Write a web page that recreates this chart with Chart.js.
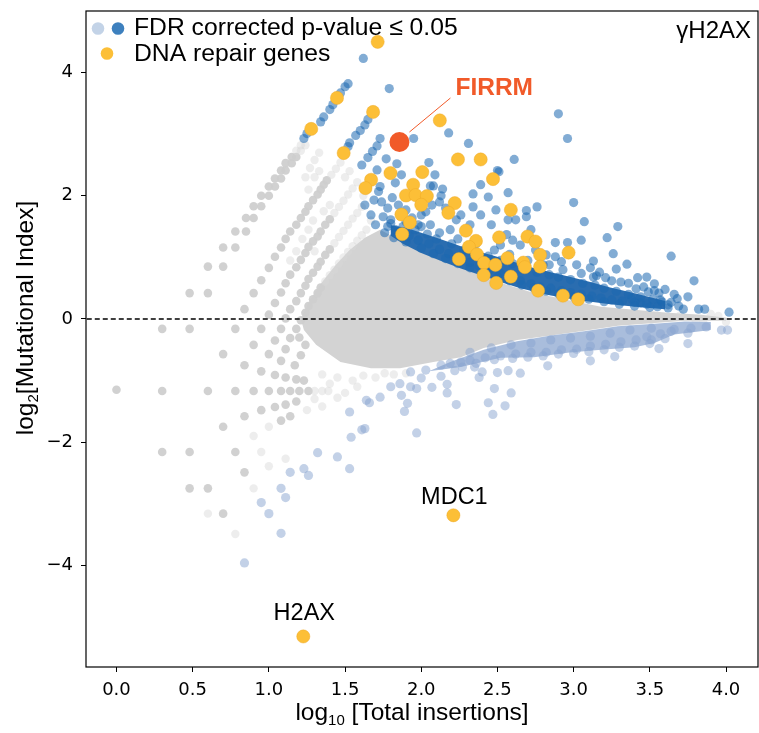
<!DOCTYPE html>
<html>
<head>
<meta charset="utf-8">
<script src="https://cdn.jsdelivr.net/npm/chart.js@4.4.0/dist/chart.umd.min.js"></script>
<style>
html, body { margin: 0; padding: 0; background: #fff; }
canvas { display: block; }
</style>
</head>
<body>
<canvas id="chart" width="759" height="733" style="width:759px;height:733px"></canvas>
<script>
// axis ticks
const xTicks = [0, 0.5, 1, 1.5, 2, 2.5, 3, 3.5, 4];
const yTicks = [-4, -2, 0, 2, 4];

// [log10 total insertions, log2 mutational index]
const grayPoints = [
  [0.48,0.42],[0.60,0.42],[0.60,0.85],[0.70,0.85],[0.70,1.16],[0.78,1.16],[0.78,1.42],[0.85,1.42],[0.85,1.64],[0.90,1.64],
  [0.90,1.83],[0.95,1.83],[0.95,2.00],[1.00,2.00],[1.00,2.15],[1.04,2.15],[1.04,2.28],[1.08,2.28],[1.08,2.41],[1.11,2.41],
  [1.11,2.53],[1.15,2.53],[1.15,2.63],[1.18,2.63],
  [0.30,-0.16],[0.48,-0.16],[0.78,-0.16],[0.84,0.16],[0.90,0.42],[0.95,0.63],[1.00,0.83],[1.04,1.01],[1.08,1.16],[1.11,1.30],
  [1.14,1.42],[1.18,1.53],[1.21,1.64],[1.24,1.74],[1.26,1.83],[1.29,1.93],[1.32,2.02],[1.34,2.10],[1.36,2.18],[1.38,2.25],
  [0.95,-0.16],[1.00,0.07],[1.04,0.26],[1.08,0.43],[1.11,0.58],[1.14,0.72],[1.18,0.84],[1.21,0.96],[1.24,1.07],[1.26,1.17],
  [1.29,1.26],[1.32,1.34],[1.34,1.42],[1.37,1.53],[1.40,1.62],
  [1.08,-0.16],[1.11,0.01],[1.14,0.16],[1.18,0.29],[1.21,0.42],[1.24,0.54],[1.26,0.65],[1.29,0.75],[1.32,0.85],[1.34,0.93],
  [1.37,1.04],[1.40,1.13],
  [1.18,-0.16],[1.21,-0.02],[1.24,0.10],[1.26,0.21],[1.29,0.32],[1.32,0.42],[1.34,0.51],
  [0.00,-1.15],[0.30,-1.17],[0.60,-1.17],[0.78,-1.17],[0.90,-1.17],[1.00,-1.17],[1.08,-1.17],[1.14,-1.17],[1.20,-1.17],[1.26,-1.17],
  [0.30,-2.16],[0.48,-2.16],[0.78,-2.16],[0.48,-2.75],[0.60,-2.75],[0.70,-3.16],
  [0.90,-0.42],[1.00,-0.57],[1.04,-0.35],[1.08,-0.68],[1.11,-0.49],[1.14,-0.31],[0.70,-0.57],[0.84,-0.75],[0.95,-0.85],[1.04,-0.91],
  [1.11,-0.95],[1.18,-0.98],[1.23,-1.00],[1.17,-0.75],[1.21,-0.59],[1.24,-0.42],[1.20,-0.30],
  [0.70,-1.75],[0.84,-1.58],[0.95,-1.48],[1.04,-1.43],[1.11,-1.39],[1.18,-1.34],[1.14,-1.58],[1.08,-1.65],[0.84,-2.49]
];
const grayFaint = [
  [1.18,2.73],[1.21,2.73],[1.21,2.82],[1.24,2.82],[1.00,-1.75],[0.90,-1.90],[1.00,-2.39],[1.11,-2.27],[0.95,-2.16],[0.90,-2.75],
  [0.60,-3.16],[0.78,-3.49],[1.30,-1.17],[1.35,-1.17],[1.39,-1.17],[1.25,-1.48],[1.30,-1.30],[1.35,-1.42],[1.45,-0.95],[1.55,-1.00],
  [1.62,-0.92],[1.70,-0.95],[1.76,-0.88],[1.50,-1.20],[1.58,-1.10],[1.40,-1.05],[1.35,-0.90],[1.82,-0.90],[1.90,-0.88],[1.45,-1.28],
  [1.43,1.72],[1.46,1.82],[1.49,1.92],[1.52,2.02],[1.55,2.12],[1.58,2.22],
  [1.43,1.23],[1.46,1.33],[1.49,1.43],[1.52,1.53],[1.55,1.63],[1.58,1.72],[1.61,1.82],
  [1.41,2.34],[1.44,2.44],[1.47,2.54],
  [1.37,0.61],[1.40,0.71],[1.43,0.80],[1.46,0.90],[1.49,1.00],[1.52,1.09],[1.55,1.18],[1.58,1.27],[1.61,1.36],[1.64,1.45],
  [1.30,2.30],[1.33,2.40],[1.26,2.10],[1.29,1.60],[1.36,1.75],[1.40,1.85],[1.22,1.30],[1.26,1.45],[1.30,1.10],[1.18,1.10],
  [1.14,0.95],[1.24,2.30],[1.27,2.45],[1.30,2.58],[1.33,2.70],[1.50,2.30],[1.53,2.40],[1.62,2.00],[1.65,2.10],[1.67,1.60],
  [3.85,-0.05],[3.95,0.05],[4.00,-0.05],[3.90,0.08],[3.80,-0.02],[3.70,0.06]
];
const sigUp = [
  [1.23,2.93],[1.25,3.01],[1.34,3.20],[1.36,3.28],[1.40,3.40],[1.42,3.48],[1.47,3.67],[1.50,3.77],[1.52,3.82],[1.62,4.23],[1.79,3.74],
  [1.52,2.80],[1.53,2.86],[1.57,2.98],[1.60,3.06],[1.63,3.15],[1.65,3.24],
  [1.61,2.50],[1.65,2.62],[1.68,2.72],[1.73,2.93],[1.71,2.81],
  [1.72,2.07],[1.69,1.93],[1.74,1.90],[1.78,1.80],[1.75,1.66],[1.73,2.15],[1.83,2.21],[1.87,2.34],[1.84,2.52],[1.77,2.60],[1.71,2.42],
  [1.95,2.93],[2.18,3.02],[2.31,2.85],[2.61,2.59],[2.90,3.33],[2.96,2.93],[2.05,2.54],[2.09,2.34],[2.08,2.16],[2.14,2.11],[2.12,1.90],
  [2.34,2.03],[2.39,2.18],[2.50,2.41],[2.44,1.98],[2.57,2.05],[2.57,1.61],[2.69,1.76],[2.69,1.66],[2.76,1.82],[3.00,1.89],[3.07,1.58],
  [3.29,1.50],[3.22,1.32],[3.05,1.28],[2.88,1.24],[2.96,1.24],[2.88,1.01],[3.13,0.94],[3.26,1.06],[3.35,0.89],[3.17,0.76],[3.28,0.81],
  [3.42,0.67],[3.48,0.68],[3.53,0.57],[3.64,1.02],[3.79,0.62],[3.41,0.49],[3.49,0.44],[3.56,0.42],[3.38,0.33],[3.44,0.26],[3.57,0.31],
  [3.62,0.23],[3.75,0.36],[3.69,0.21],[3.72,0.16],[3.82,0.16],[3.86,0.16],[4.02,0.11],[3.13,0.68],
  [2.62,1.61],[2.34,1.82],[2.06,2.16],[2.51,2.39],[2.13,2.00],[2.00,1.69],[2.06,1.53],[2.23,1.61],[2.32,1.53],[2.46,1.53],[2.56,1.37],
  [2.65,1.20],[2.82,1.04],[2.92,0.93],[3.02,0.88],[3.11,0.83],[3.21,0.67],[3.31,0.60],
  [1.81,1.97],[1.85,1.85],[1.90,1.77],[1.94,1.64],[1.98,1.53],[2.03,1.74],[2.07,1.85],[2.16,1.80],[2.19,1.45],[2.26,1.69],[2.39,1.69],
  [2.49,1.77],[2.52,1.20],[2.60,1.28],[2.75,1.12],[2.84,0.88],[2.72,1.45],[1.80,1.61],[1.83,1.45],[1.67,1.69],[1.63,1.85],[1.70,1.53],
  [1.78,1.50],[1.85,1.42],[1.92,1.35],[1.98,1.28],[2.05,1.22],[2.12,1.13],[2.18,1.06],[2.25,0.98],[2.32,0.92],[2.38,0.86],[2.45,0.80],
  [2.52,0.74],[2.58,0.68],[2.65,0.62],[2.72,0.57],[2.78,0.52],[2.85,0.50],[2.92,0.46],[2.98,0.43],[3.05,0.40],[3.12,0.37],[3.18,0.34],
  [3.25,0.31],[3.32,0.29],[3.40,0.27],[3.48,0.24],[3.55,0.20],[3.62,0.18],
  [1.80,1.55],[1.88,1.50],[1.96,1.45],[2.04,1.38],[2.10,1.30],[2.20,1.22],[2.28,1.12],[2.36,1.08],[2.44,1.02],[2.52,0.95],[2.60,0.90],
  [2.68,0.82],[2.76,0.76],[2.84,0.72],[2.90,0.68],[2.98,0.64],[3.06,0.58],[3.14,0.55],[3.20,0.50],[3.28,0.45],[3.36,0.40],[3.44,0.36],
  [3.52,0.32],[3.58,0.28],
  [1.76,1.40],[1.82,1.32],[1.90,1.25],[2.00,1.15],[2.08,1.06],[2.16,0.98],[2.24,0.90],[2.32,0.83],[2.42,0.75],[2.50,0.68],[2.58,0.62],
  [2.66,0.55],[2.74,0.50],[2.82,0.45],[2.90,0.41],[3.00,0.36],[3.10,0.32],[3.20,0.28],[3.30,0.24],[3.40,0.21],[3.50,0.19],
  [3.64,0.27],[3.68,0.33],[3.66,0.40],[3.60,0.48],[3.53,0.46],[3.46,0.52],[3.36,0.58],[3.25,0.62],[3.15,0.70],[3.05,0.74],[2.93,0.80],
  [2.80,0.88],[2.70,0.95],[2.58,1.05],[2.48,1.12],[2.36,1.22],[2.24,1.30],[2.12,1.40],[2.00,1.50],[1.90,1.58]
];
const sigDown = [
  [0.84,-3.96],[0.95,-2.98],[1.00,-3.16],[1.08,-2.75],[1.08,-3.48],[1.11,-2.90],[1.14,-2.49],[1.23,-2.43],[1.26,-2.54],[1.32,-2.17],
  [1.45,-2.24],[1.53,-2.43],[1.54,-1.92],[1.61,-1.80],[1.63,-1.78],[1.53,-1.51],[1.64,-1.32],[1.66,-1.36],[1.73,-1.27],[1.80,-1.10],
  [1.86,-1.05],[1.87,-1.24],[1.91,-1.37],[1.89,-1.50],[1.93,-1.10],[1.97,-1.85],[1.97,-1.13],[2.00,-0.96],[2.07,-1.11],[2.13,-0.93],
  [2.17,-1.20],[2.17,-1.06],[2.23,-1.39],[2.22,-0.84],[2.27,-0.78],[2.35,-0.78],[2.38,-0.95],[2.40,-0.86],[2.44,-1.36],[2.47,-1.55],
  [2.48,-1.13],[2.50,-0.87],[2.55,-1.41],[2.59,-1.20],[2.57,-0.84],[2.65,-0.88],[2.83,-0.76],[3.11,-0.68],[3.27,-0.61],[3.75,-0.40],
  [3.56,-0.48],[3.51,-0.34],[3.66,-0.17],[3.75,-0.23],[3.97,-0.18],[4.01,-0.18],
  [2.26,-0.70],[2.32,-0.67],[2.42,-0.63],[2.52,-0.60],[2.62,-0.57],[2.72,-0.54],[2.82,-0.54],[2.92,-0.50],[3.02,-0.49],[3.11,-0.44],
  [3.21,-0.41],[3.31,-0.37],[3.41,-0.34],[3.48,-0.29],[3.57,-0.24],[3.64,-0.20],[3.77,-0.15],[3.87,-0.13],
  [2.32,-0.54],[2.46,-0.47],[2.59,-0.42],[2.72,-0.39],[2.85,-0.34],[2.98,-0.31],[3.11,-0.28],[3.24,-0.23],[3.37,-0.18],[3.51,-0.15],
  [2.13,-0.75],[2.19,-0.72],[2.03,-0.83],[1.93,-0.86],
  [2.36,-0.72],[2.48,-0.66],[2.60,-0.64],[2.70,-0.62],[2.80,-0.60],[2.90,-0.57],[3.00,-0.56],[3.10,-0.53],[3.20,-0.50],[3.30,-0.46],
  [3.40,-0.44],[3.50,-0.40],[3.60,-0.32]
];
const repairGenes = [
  [1.714,4.499],[1.447,3.589],[1.684,3.361],[1.278,3.085],[2.122,3.224],[1.491,2.694],[2.241,2.590],[2.390,2.590],[2.471,2.271],
  [1.798,2.369],[2.007,2.385],[1.671,2.260],[1.634,2.125],[1.947,2.179],[1.900,2.005],[1.963,2.011],[2.037,1.995],[2.000,1.854],
  [2.220,1.881],[2.178,1.724],[2.588,1.772],[1.870,1.696],[1.925,1.566],[1.875,1.377],[2.293,1.434],[2.511,1.325],[2.697,1.338],
  [2.750,1.257],[2.359,1.268],[2.313,1.171],[2.967,1.078],[2.247,0.971],[2.366,1.049],[2.412,0.911],[2.487,0.878],[2.566,0.987],
  [2.670,0.915],[2.680,0.841],[2.780,1.041],[2.780,0.850],[2.410,0.712],[2.588,0.688],[2.492,0.585],[2.767,0.460],[2.930,0.379],
  [3.030,0.320],[2.211,-3.187],[1.226,-5.154]
];
const firrmPoint = [[1.857, 2.873]];
const mdc1Point = [2.211, -3.187];
const h2axPoint = [1.226, -5.154];

// outlines of the dense regions where single dots merge
const cloudOutline = [
  [1.21,0],[1.27,0.31],[1.35,0.60],[1.44,0.88],[1.53,1.12],[1.63,1.32],[1.73,1.45],[1.86,1.28],[2.08,1.01],[2.30,0.80],
  [2.52,0.59],[2.74,0.42],[2.96,0.31],[3.18,0.20],[3.40,0.15],[3.62,0.10],[3.84,0.07],[4.00,0.02],[4.00,-0.03],[3.73,-0.03],
  [3.51,-0.07],[3.29,-0.11],[3.07,-0.19],[2.85,-0.27],[2.63,-0.34],[2.41,-0.47],[2.26,-0.62],[2.08,-0.70],[1.86,-0.80],[1.67,-0.80],
  [1.47,-0.70],[1.31,-0.42],[1.23,-0.18]
];
const bandUp = [
  [1.80,1.52],[1.90,1.48],[2.00,1.40],[2.10,1.32],[2.19,1.24],[2.32,1.13],[2.46,1.04],[2.59,0.94],[2.72,0.84],[2.85,0.76],
  [2.98,0.68],[3.11,0.60],[3.24,0.51],[3.38,0.43],[3.51,0.35],[3.60,0.29],[3.60,0.16],[3.44,0.19],[3.24,0.24],[3.05,0.30],
  [2.85,0.38],[2.65,0.50],[2.52,0.60],[2.39,0.71],[2.26,0.82],[2.13,0.94],[2.00,1.07],[1.88,1.22],[1.80,1.35]
];
const bandDown = [
  [2.19,-0.70],[2.41,-0.50],[2.63,-0.36],[2.85,-0.27],[3.07,-0.20],[3.29,-0.12],[3.51,-0.08],[3.73,-0.04],[3.90,-0.05],
  [3.90,-0.18],[3.66,-0.25],[3.53,-0.39],[3.40,-0.46],[3.18,-0.50],[2.96,-0.55],[2.74,-0.62],[2.52,-0.63],[2.26,-0.78],[2.05,-0.85]
];
const zeroLine = [[-0.3, 0], [4.3, 0]];

const toXY = arr => arr.map(p => ({ x: p[0], y: p[1] }));
const labelFont = '"Liberation Sans", Arial, sans-serif';

// draws a run of text pieces, some of them smaller and lowered (subscript)
function drawRuns(ctx, runs, x, y, align) {
  let total = 0;
  runs.forEach(r => {
    ctx.font = r.size + 'px ' + labelFont;
    r.w = ctx.measureText(r.text).width;
    total += r.w;
  });
  let cx = align === 'center' ? x - total / 2 : x;
  runs.forEach(r => {
    ctx.font = r.size + 'px ' + labelFont;
    ctx.fillText(r.text, cx, y + (r.dy || 0));
    cx += r.w;
  });
}

const overlay = {
  id: 'overlay',
  afterDraw(chart) {
    const { ctx, chartArea: a, scales: { x, y } } = chart;
    ctx.save();

    // frame
    ctx.strokeStyle = '#000';
    ctx.lineWidth = 1.2;
    ctx.strokeRect(a.left, a.top, a.right - a.left, a.bottom - a.top);

    ctx.fillStyle = '#000';
    ctx.textAlign = 'left';
    ctx.textBaseline = 'alphabetic';

    // axis titles with subscripts
    drawRuns(ctx, [
      { text: 'log', size: 24.5 },
      { text: '10', size: 15, dy: 5 },
      { text: ' [Total insertions]', size: 24.5 }
    ], 412, 720, 'center');

    ctx.save();
    ctx.translate(33, 318);
    ctx.rotate(-Math.PI / 2);
    drawRuns(ctx, [
      { text: 'log', size: 24.5 },
      { text: '2', size: 15, dy: 5 },
      { text: '[Mutational Index]', size: 24.5 }
    ], 0, 0, 'center');
    ctx.restore();

    // legend
    const dot = (cx, cy, r, color) => {
      ctx.beginPath();
      ctx.arc(cx, cy, r, 0, Math.PI * 2);
      ctx.fillStyle = color;
      ctx.fill();
    };
    dot(98, 28.5, 6.3, '#c3d3e7');
    dot(118, 28.5, 6.3, '#3d80be');
    dot(107, 53.5, 6.3, '#fcbf37');
    ctx.fillStyle = '#000';
    ctx.font = '24.7px ' + labelFont;
    ctx.fillText('FDR corrected p-value \u2264 0.05', 134, 35);
    ctx.fillText('DNA repair genes', 134, 61);

    // panel name
    ctx.textAlign = 'right';
    ctx.font = '24px ' + labelFont;
    ctx.fillText('\u03b3H2AX', 751, 38);

    // gene labels
    ctx.textAlign = 'center';
    ctx.font = '23.5px ' + labelFont;
    ctx.fillText('MDC1', x.getPixelForValue(mdc1Point[0]) + 1, y.getPixelForValue(mdc1Point[1]) - 11);
    ctx.fillText('H2AX', x.getPixelForValue(h2axPoint[0]) + 1, y.getPixelForValue(h2axPoint[1]) - 16);

    const fx = x.getPixelForValue(firrmPoint[0][0]);
    const fy = y.getPixelForValue(firrmPoint[0][1]);
    ctx.strokeStyle = '#f15a29';
    ctx.lineWidth = 1;
    ctx.beginPath();
    ctx.moveTo(fx + 10, fy - 10);
    ctx.lineTo(fx + 51, fy - 44);
    ctx.stroke();
    ctx.fillStyle = '#f15a29';
    ctx.textAlign = 'left';
    ctx.font = 'bold 24.5px ' + labelFont;
    ctx.fillText('FIRRM', fx + 56, fy - 47);

    ctx.restore();
  }
};

new Chart(document.getElementById('chart'), {
  type: 'scatter',
  data: {
    datasets: [
      { label: 'FIRRM', data: toXY(firrmPoint), pointRadius: 10, backgroundColor: '#f15a29', borderWidth: 0, order: 1 },
      { label: 'DNA repair genes', data: toXY(repairGenes), pointRadius: 6.6, backgroundColor: '#fcbf37',
        borderColor: 'rgba(235,165,35,0.7)', borderWidth: 0.6, order: 2 },
      { label: 'up', data: toXY(sigUp), pointRadius: 4.6, backgroundColor: 'rgba(28,104,176,0.55)', borderWidth: 0, order: 3 },
      { type: 'line', label: 'up core', data: toXY(bandUp), fill: 'shape', backgroundColor: '#2a6db0',
        borderWidth: 0, pointRadius: 0, order: 4 },
      { type: 'line', label: 'zero', data: toXY(zeroLine), borderColor: '#000', borderDash: [5, 3], borderWidth: 1.3,
        pointRadius: 0, fill: false, order: 5 },
      { label: 'down', data: toXY(sigDown), pointRadius: 4.6, backgroundColor: 'rgba(135,163,208,0.5)', borderWidth: 0, order: 6 },
      { type: 'line', label: 'down core', data: toXY(bandDown), fill: 'shape', backgroundColor: '#a9bddc',
        borderWidth: 0, pointRadius: 0, order: 7 },
      { label: 'faint', data: toXY(grayFaint), pointRadius: 4.2, backgroundColor: 'rgba(215,215,215,0.45)', borderWidth: 0, order: 8 },
      { label: 'ns', data: toXY(grayPoints), pointRadius: 4.3, backgroundColor: 'rgba(207,207,207,0.95)', borderWidth: 0, order: 9 },
      { type: 'line', label: 'ns cloud', data: toXY(cloudOutline), fill: 'shape', backgroundColor: '#d3d3d3',
        borderWidth: 0, pointRadius: 0, order: 10 }
    ]
  },
  options: {
    responsive: false,
    animation: false,
    events: [],
    devicePixelRatio: 1,
    layout: { autoPadding: false, padding: { top: 11, right: 1, left: 0, bottom: 0 } },
    plugins: { legend: { display: false }, tooltip: { enabled: false } },
    scales: {
      x: {
        type: 'linear', min: -0.2, max: 4.21,
        afterBuildTicks: s => { s.ticks = xTicks.map(v => ({ value: v })); },
        afterFit: s => { s.height = 66; s.paddingLeft = 0; s.paddingRight = 0; },
        ticks: { color: '#000', font: { family: 'DejaVu Sans', size: 18 }, padding: 8, maxRotation: 0, autoSkip: false,
          callback: v => v.toFixed(1) },
        grid: { display: true, drawOnChartArea: false, drawTicks: true, tickLength: 5, color: '#000', lineWidth: 1 },
        border: { display: false }
      },
      y: {
        type: 'linear', min: -5.65, max: 5.0,
        afterBuildTicks: s => { s.ticks = yTicks.map(v => ({ value: v })); },
        afterFit: s => { s.width = 86; s.paddingTop = 0; s.paddingBottom = 0; },
        ticks: { color: '#000', font: { family: 'DejaVu Sans', size: 18 }, padding: 8, autoSkip: false,
          callback: v => v < 0 ? '\u2212' + Math.abs(v) : String(v) },
        grid: { display: true, drawOnChartArea: false, drawTicks: true, tickLength: 5, color: '#000', lineWidth: 1 },
        border: { display: false }
      }
    }
  },
  plugins: [overlay]
});
</script>
</body>
</html>
